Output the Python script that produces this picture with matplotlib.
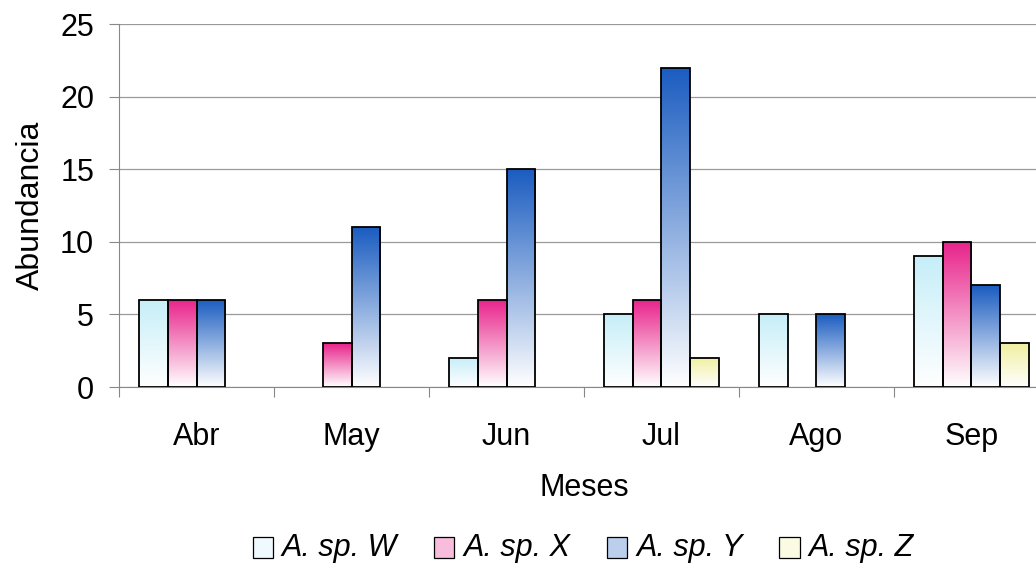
import numpy as np
import matplotlib.pyplot as plt
from matplotlib.colors import LinearSegmentedColormap
from matplotlib.patches import Rectangle
from matplotlib.legend_handler import HandlerPatch

plt.rcParams['font.family'] = ['Liberation Sans', 'DejaVu Sans']

# --- Data ---
meses = ['Abr', 'May', 'Jun', 'Jul', 'Ago', 'Sep']
especies = ['A. sp. W', 'A. sp. X', 'A. sp. Y', 'A. sp. Z']
sp_w = [6, 0, 2, 5, 5, 9]
sp_x = [6, 3, 6, 6, 0, 10]
sp_y = [6, 11, 15, 22, 5, 7]
sp_z = [0, 0, 0, 2, 0, 3]

# top colour of each gradient (fades to white at the base)
top_colors = ['#c6eef8', '#e8228a', '#1a5cc0', '#f0f0a0']

fs = 22

fig = plt.figure(figsize=(10.36, 5.65), dpi=100)
ax = fig.add_axes([0.1149, 0.315, 0.8976, 0.6425])

series = [sp_w, sp_x, sp_y, sp_z]
x = np.arange(len(meses))
width = 0.185
grad = np.linspace(0, 1, 256).reshape(-1, 1)

for i, (vals, col) in enumerate(zip(series, top_colors)):
    cmap = LinearSegmentedColormap.from_list('g%d' % i, ['white', col])
    offs = x + (i - 1.5) * width
    bars = ax.bar(offs, vals, width, facecolor='none', edgecolor='black',
                  linewidth=1.3, zorder=3)
    for b, v in zip(bars, vals):
        if v <= 0:
            b.set_visible(False)
            continue
        im = ax.imshow(grad, cmap=cmap, aspect='auto', origin='lower',
                       extent=[b.get_x(), b.get_x() + width, 0, v], zorder=2)
        im.set_clip_path(b)

ax.set_xlim(-0.5, 5.5)
ax.set_ylim(0, 25)
ax.set_yticks(range(0, 26, 5))
ax.yaxis.grid(True, color='#9a9a9a', linewidth=0.9, zorder=0)
ax.set_axisbelow(True)

# month boundaries get the tick marks, labels sit at the centres
ax.set_xticks(np.arange(-0.5, 6, 1))
ax.set_xticklabels([])
ax.set_xticks(x, minor=True)
ax.set_xticklabels(meses, minor=True)
ax.tick_params(axis='x', which='major', direction='out', length=7, color='#888888')
ax.tick_params(axis='x', which='minor', length=0, pad=25, labelsize=fs)
ax.tick_params(axis='y', direction='out', length=7, color='#888888', pad=11, labelsize=fs)

for s in ['top', 'right']:
    ax.spines[s].set_visible(False)
for s in ['left', 'bottom']:
    ax.spines[s].set_color('#888888')

ax.set_ylabel('Abundancia', fontsize=23, labelpad=10)
ax.set_xlabel('Meses', fontsize=fs, labelpad=15)


class GradientHandler(HandlerPatch):
    def create_artists(self, legend, orig_handle, xdescent, ydescent,
                       width, height, fontsize, trans):
        h = height * 1.0
        w = width
        r = Rectangle((-xdescent, -ydescent - 0.1 * h), w, h,
                      facecolor=orig_handle.get_facecolor(),
                      edgecolor='black', linewidth=0.9, transform=trans)
        return [r]


handles = [Rectangle((0, 0), 1, 1, facecolor=LinearSegmentedColormap.from_list(
    'l', ['white', c])(0.3)) for c in top_colors]
leg = fig.legend(handles, especies, loc='center', bbox_to_anchor=(0.563, 0.03),
                 ncol=4, frameon=False, handler_map={Rectangle: GradientHandler()},
                 prop={'style': 'italic', 'size': fs}, handlelength=0.66,
                 handleheight=0.7, handletextpad=0.3, columnspacing=1.2,
                 borderpad=0)

fig.savefig('out.png', dpi=100)
